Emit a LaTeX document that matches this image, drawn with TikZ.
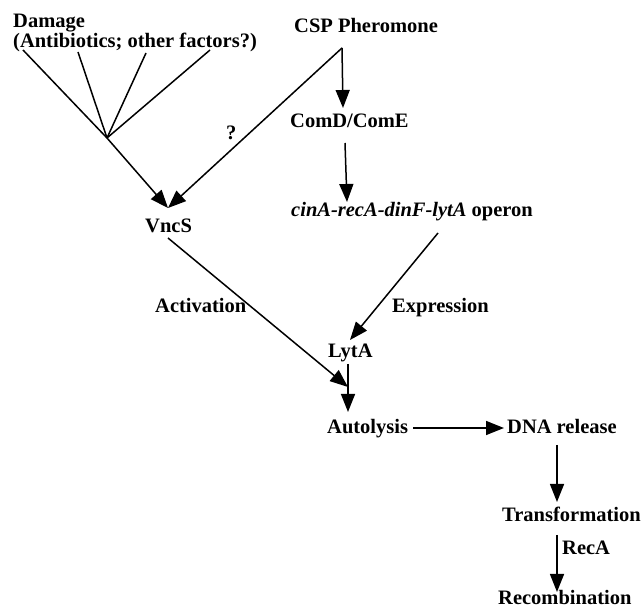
\documentclass[tikz,border=0pt]{standalone}
\usepackage{fontspec}
\setmainfont{Liberation Serif}
\usetikzlibrary{arrows.meta}
\begin{document}
\begin{tikzpicture}[x=1pt,y=-1pt,
  lbl/.style={anchor=base west,inner sep=0pt,font=\fontsize{20.5}{24}\selectfont\bfseries},
  ln/.style={line width=1.5pt},
  arr/.style={ln,-{Triangle[length=18pt,width=14pt]}}]
\useasboundingbox (0,0) rectangle (641,609);
% text nodes
\node[lbl] (damage1) at (13,28) {Damage};
\node[lbl] (damage2) at (13,48) {(Antibiotics; other factors?)};
\node[lbl] (csp) at (294,33) {CSP Pheromone};
\node[lbl] (q) at (226,140) {?};
\node[lbl] (comd) at (290,128) {ComD/ComE};
\node[lbl] (operon) at (291,217) {\itshape cinA-recA-dinF-lytA\/ \upshape operon};
\node[lbl] (vncs) at (145,233) {VncS};
\node[lbl] (activation) at (155,313) {Activation};
\node[lbl] (expression) at (392,313) {Expression};
\node[lbl] (lyta) at (328,358) {LytA};
\node[lbl] (autolysis) at (327,434) {Autolysis};
\node[lbl] (dna) at (507,434) {DNA release};
\node[lbl] (transf) at (502,522) {Transformation};
\node[lbl] (reca) at (562,555) {RecA};
\node[lbl] (recomb) at (498,605) {Recombination};
% connector end points
\coordinate (d1) at (23,50);
\coordinate (d2) at (78,52);
\coordinate (d3) at (146,53);
\coordinate (d4) at (210,50);
\coordinate (j) at (107,138);
\coordinate (vtip) at (168,208);
\coordinate (c) at (342,48);
\coordinate (comdtop) at (343,108);
\coordinate (comdbot) at (345,143);
\coordinate (operontop) at (347,202);
\coordinate (vncsbot) at (168,238);
\coordinate (autotip) at (348,387);
\coordinate (operonbot) at (438,233);
\coordinate (lytatop) at (350,340);
\coordinate (lytabot) at (348,364);
\coordinate (autotop) at (348,412);
\coordinate (autoright) at (413,428);
\coordinate (dnaleft) at (504,428);
\coordinate (dnabot) at (557,445);
\coordinate (transtop) at (557,502);
\coordinate (transbot) at (557,535);
\coordinate (recombtop) at (557,592);
% connectors
\draw[ln] (d1) -- (j);
\draw[ln] (d2) -- (j);
\draw[ln] (d3) -- (j);
\draw[ln] (d4) -- (j);
\draw[arr] (j) -- (vtip);
\draw[arr] (c) -- (vtip);
\draw[arr] (c) -- (comdtop);
\draw[arr] (comdbot) -- (operontop);
\draw[arr] (vncsbot) -- (autotip);
\draw[arr] (operonbot) -- (lytatop);
\draw[arr] (lytabot) -- (autotop);
\draw[arr] (autoright) -- (dnaleft);
\draw[arr] (dnabot) -- (transtop);
\draw[arr] (transbot) -- (recombtop);
\end{tikzpicture}
\end{document}
